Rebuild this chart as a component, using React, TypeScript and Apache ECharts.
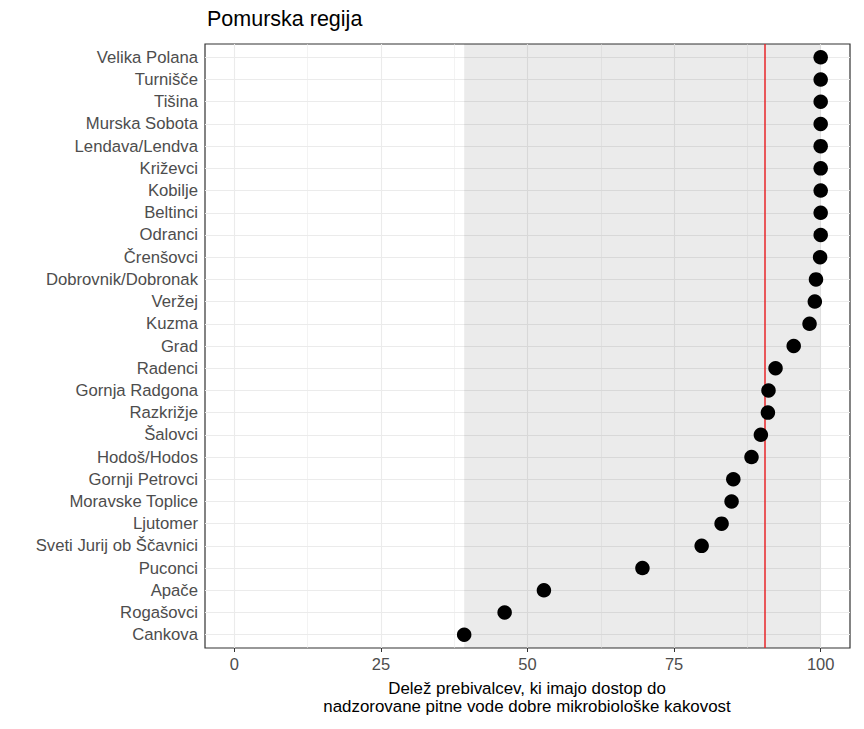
import React, { useEffect, useRef } from "react";
import * as echarts from "echarts";

const categories = [
  "Velika Polana", "Turnišče", "Tišina", "Murska Sobota", "Lendava/Lendva", "Križevci",
  "Kobilje", "Beltinci", "Odranci", "Črenšovci", "Dobrovnik/Dobronak", "Veržej", "Kuzma",
  "Grad", "Radenci", "Gornja Radgona", "Razkrižje", "Šalovci", "Hodoš/Hodos",
  "Gornji Petrovci", "Moravske Toplice", "Ljutomer", "Sveti Jurij ob Ščavnici",
  "Puconci", "Apače", "Rogašovci", "Cankova",
];
const values = [
  100, 100, 100, 100, 100, 100, 100, 100, 100, 99.9, 99.2, 99.0, 98.1,
  95.4, 92.3, 91.1, 91.0, 89.8, 88.2, 85.1, 84.8, 83.1, 79.7, 69.6, 52.8, 46.1, 39.2,
];
const xTicks = [0, 25, 50, 75, 100];
const xMinor = [12.5, 37.5, 62.5, 87.5];
const referenceValue = 90.4;
const rangeMin = 39.2;
const rangeMax = 100;
const titleText = "Pomurska regija";
const xTitleLines = [
  "Delež prebivalcev, ki imajo dostop do",
  "nadzorovane pitne vode dobre mikrobiološke kakovost",
];

export default function App() {
  const ref = useRef<HTMLDivElement>(null);
  useEffect(() => {
    if (!ref.current) return;
    const chart = echarts.init(ref.current, null, { renderer: "svg" });
    const n = categories.length;
    const yPos = categories.map((_, i) => n - i);
    const font = "Liberation Sans, Arial, sans-serif";
    chart.setOption({
      animation: false,
      backgroundColor: "#ffffff",
      textStyle: { fontFamily: font },
      title: {
        text: titleText,
        left: 202,
        top: 3,
        textStyle: { fontSize: 21.5, fontWeight: "normal", color: "#000", fontFamily: font },
      },
      grid: {
        left: 205, top: 44, width: 645, height: 604,
        show: true, borderColor: "#333333", borderWidth: 1.2, backgroundColor: "transparent",
        containLabel: false,
      },
      xAxis: {
        type: "value", min: -5, max: 105,
        axisLine: { show: false },
        splitLine: { show: false },
        axisTick: { show: true, customValues: xTicks, length: 4, lineStyle: { color: "#333333" } },
        axisLabel: { customValues: xTicks, color: "#4D4D4D", fontSize: 16.5, margin: 7, fontFamily: font },
      },
      yAxis: {
        type: "value", min: 0.4, max: n + 0.6,
        axisLine: { show: false },
        splitLine: { show: false },
        axisTick: { show: true, customValues: yPos, length: 4, lineStyle: { color: "#333333" } },
        axisLabel: {
          customValues: yPos, color: "#4D4D4D", fontSize: 16.7, margin: 7, fontFamily: font,
          formatter: (v: number) => categories[n - Math.round(v)] ?? "",
        },
      },
      graphic: xTitleLines.map((line, i) => ({
        type: "text", x: 527, y: 688 + i * 18,
        style: {
          text: line, textAlign: "center", textVerticalAlign: "middle",
          fontSize: 16.9, fill: "#000", fontFamily: font,
        },
      })),
      series: [
        {
          type: "scatter", data: [], z: 1, silent: true,
          markLine: {
            z: 1, silent: true, symbol: "none", label: { show: false },
            lineStyle: { color: "#EBEBEB", width: 1.1, type: "solid" },
            data: [
              ...yPos.map((y) => ({ yAxis: y })),
              ...xTicks.map((x) => ({ xAxis: x })),
            ],
          },
        },
        {
          type: "scatter", data: [], z: 1, silent: true,
          markLine: {
            z: 1, silent: true, symbol: "none", label: { show: false },
            lineStyle: { color: "#EBEBEB", width: 0.6, type: "solid" },
            data: xMinor.map((x) => ({ xAxis: x })),
          },
        },
        {
          type: "scatter", data: [], z: 2, silent: true,
          markArea: {
            z: 2, silent: true, label: { show: false },
            itemStyle: { color: "rgba(0,0,0,0.08)" },
            data: [[{ xAxis: rangeMin, yAxis: 0.4 }, { xAxis: rangeMax, yAxis: n + 0.6 }]],
          },
        },
        {
          type: "scatter", data: [], z: 3, silent: true,
          markLine: {
            z: 3, silent: true, symbol: "none", label: { show: false },
            lineStyle: { color: "#E8262A", width: 1.5, type: "solid" },
            data: [{ xAxis: referenceValue }],
          },
        },
        {
          type: "scatter", z: 4, symbol: "circle", symbolSize: 14.5,
          itemStyle: { color: "#000000", opacity: 1 },
          data: values.map((v, i) => [v, yPos[i]]),
        },
      ],
    });
    return () => chart.dispose();
  }, []);
  return (
    <div
      ref={ref}
      style={{ position: "fixed", left: 0, top: 0, width: 864, height: 729 }}
    />
  );
}
